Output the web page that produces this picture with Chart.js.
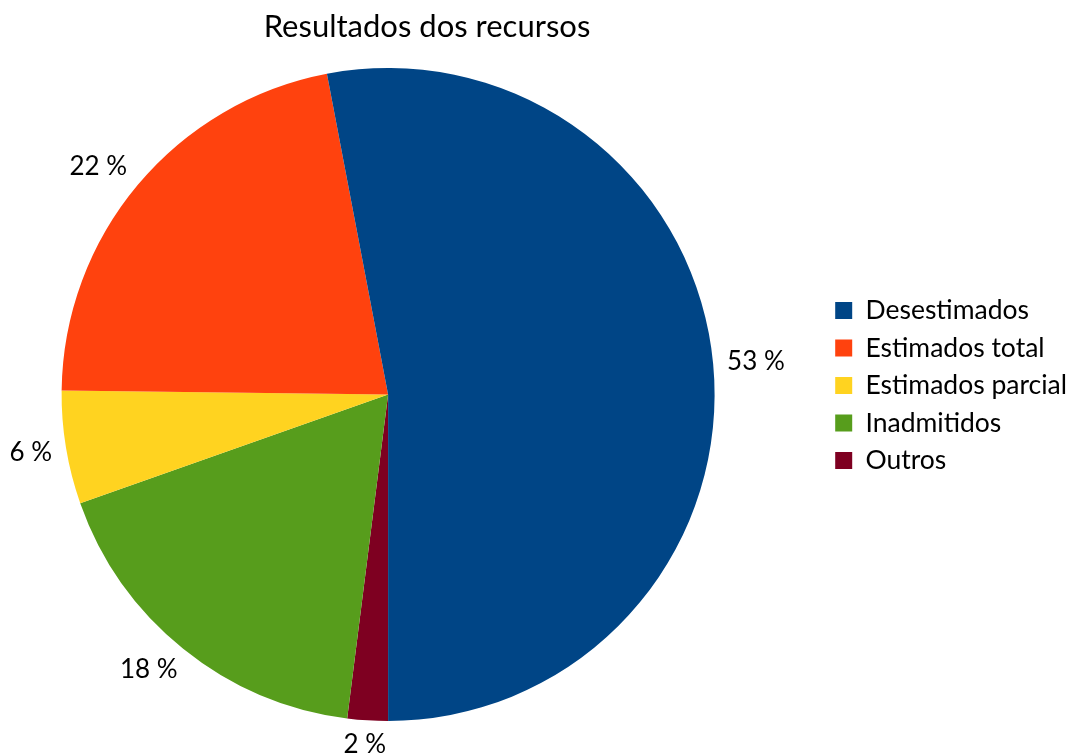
<!DOCTYPE html>
<html>
<head>
<meta charset="utf-8">
<script src="https://cdn.jsdelivr.net/npm/chart.js@4.4.1/dist/chart.umd.min.js"></script>
<style>
  html,body{margin:0;padding:0;background:#fff}
  #wrap{width:1071px;height:756px;position:relative}
</style>
</head>
<body>
<div id="wrap"><canvas id="pie"></canvas></div>
<script>
// dados do gráfico (ordem da legenda)
const chartTitle='Resultados dos recursos';
const categories=['Desestimados','Estimados total','Estimados parcial','Inadmitidos','Outros'];
const values=[53.0,21.8,5.6,17.6,2.0];
const colors=['#004586','#ff420e','#ffd320','#579d1c','#7e0021'];

// o LibreOffice desenha no sentido anti-horário: invertemos para o Chart.js
const drawLabels=categories.slice().reverse();
const drawValues=values.slice().reverse();
const drawColors=colors.slice().reverse();

Chart.defaults.font.family='Lato';
Chart.defaults.color='#000';

const titlePlugin={
  id:'titleText',
  afterDraw(chart){
    const ctx=chart.ctx;
    ctx.save();
    ctx.font='31px Lato'; ctx.fillStyle='#000';
    ctx.textAlign='center'; ctx.textBaseline='middle';
    ctx.fillText(chartTitle,427,27);
    ctx.restore();
  }
};

const clamp1=v=>Math.max(-1,Math.min(1,v));

const pctLabels={
  id:'pctLabels',
  afterDatasetsDraw(chart){
    const ctx=chart.ctx, ds=chart.data.datasets[0];
    const total=ds.data.reduce((a,b)=>a+b,0);
    ctx.save();
    ctx.font='26px Lato'; ctx.fillStyle='#000';
    ctx.textAlign='center'; ctx.textBaseline='middle';
    chart.getDatasetMeta(0).data.forEach((arc,i)=>{
      const p=arc.getProps(['x','y','startAngle','endAngle','outerRadius'],true);
      const m=(p.startAngle+p.endAngle)/2, c=Math.cos(m), s=Math.sin(m);
      const txt=Math.round(ds.data[i]/total*100)+' %';
      const w=ctx.measureText(txt).width, h=20;
      const r=p.outerRadius+14;
      // a caixa do texto encosta no ponto pela sua borda/canto
      const ox=clamp1(c*Math.SQRT2)*w/2, oy=clamp1(s*Math.SQRT2)*h/2;
      ctx.fillText(txt,p.x+r*c+ox,p.y+r*s+oy);
    });
    ctx.restore();
  }
};

// legenda encostada à margem direita, sem mexer na área da pizza
const legendShift={
  id:'legendShift',
  afterLayout(chart){
    const lg=chart.legend;
    const dx=chart.width-lg.right+6, dy=-9;
    lg.left+=dx; lg.right+=dx; lg.top+=dy; lg.bottom+=dy;
  }
};

new Chart(document.getElementById('pie'),{
  type:'pie',
  data:{labels:drawLabels,datasets:[{data:drawValues,backgroundColor:drawColors,borderWidth:0}]},
  options:{
    responsive:true,maintainAspectRatio:false,animation:false,
    rotation:180,
    layout:{padding:{left:60,top:68,bottom:35,right:102}},
    plugins:{
      title:{display:false},
      tooltip:{enabled:false},
      legend:{
        position:'right',reverse:true,
        labels:{font:{size:26.5},boxWidth:17,boxHeight:17,padding:11,color:'#000'}
      }
    }
  },
  plugins:[titlePlugin,pctLabels,legendShift]
});
</script>
</body>
</html>
